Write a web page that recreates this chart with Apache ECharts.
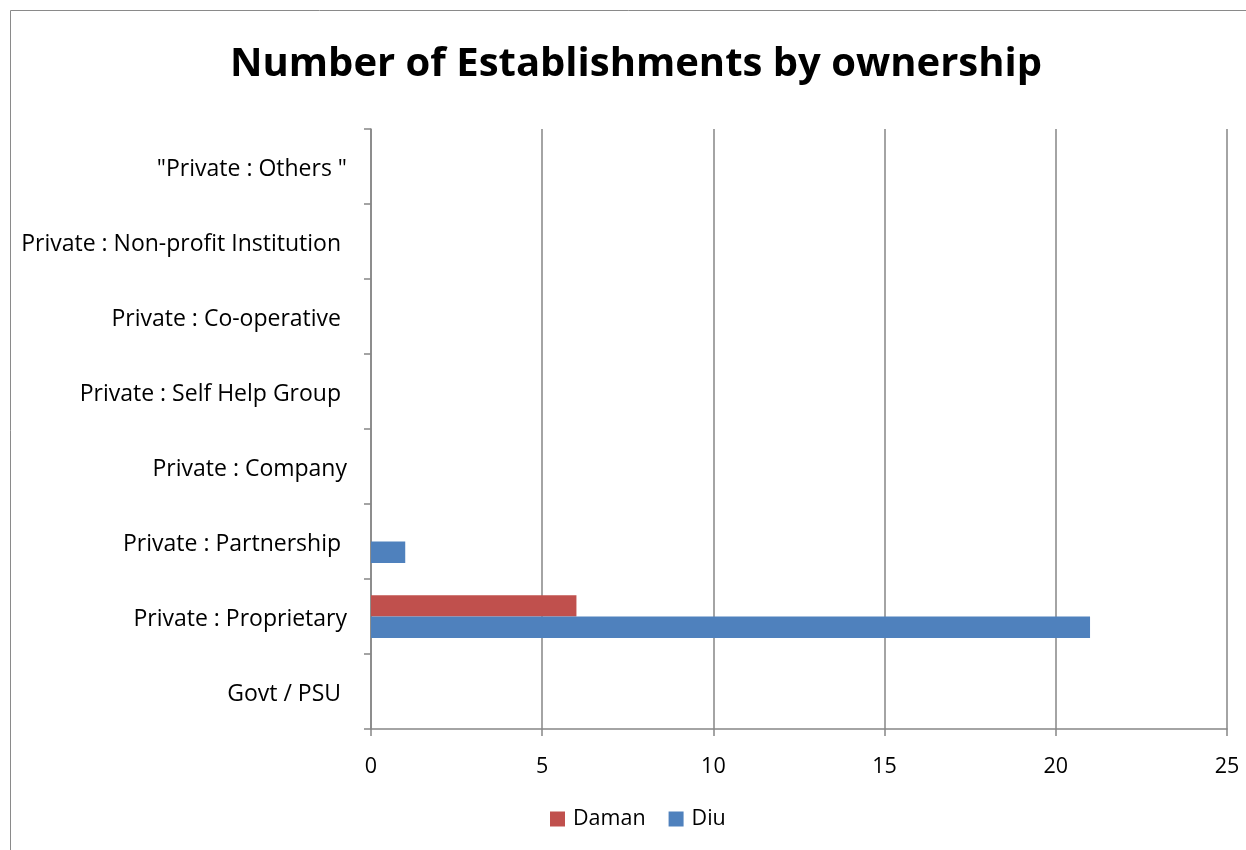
<!DOCTYPE html>
<html><head><meta charset="utf-8">
<script src="https://cdn.jsdelivr.net/npm/echarts@6/dist/echarts.min.js"></script>
<style>html,body{margin:0;padding:0;background:#fff}#c{width:1246px;height:850px}</style>
</head><body><div id="c"></div>
<script>
const categories = ['Govt / PSU ', 'Private : Proprietary', 'Private : Partnership ', 'Private : Company', 'Private : Self Help Group ', 'Private : Co-operative ', 'Private : Non-profit Institution ', '"Private : Others "'];
const damanValues = [0, 6, 0, 0, 0, 0, 0, 0];
const diuValues = [0, 21, 1, 0, 0, 0, 0, 0];
const xTicks = { min: 0, max: 25, interval: 5 };

const chart = echarts.init(document.getElementById('c'), null, {renderer: 'canvas'});
const font = '"Open Sans", "Noto Sans", sans-serif';
chart.setOption({
  animation: false,
  backgroundColor: '#fff',
  title: {
    text: 'Number of Establishments by ownership',
    left: 225, top: 40,
    textStyle: { fontFamily: font, fontSize: 40, fontWeight: 'bold', color: '#000' }
  },
  graphic: [{
    type: 'rect', shape: { x: 10.5, y: 10.5, width: 1300, height: 900 },
    style: { fill: 'none', stroke: '#8a8a8a', lineWidth: 1 }, silent: true
  }],
  legend: {
    data: ['Daman', 'Diu'], bottom: 15, left: 545,
    itemWidth: 15, itemHeight: 15, itemGap: 23, icon: 'rect',
    textStyle: { fontFamily: font, fontSize: 21.5, color: '#000', padding: [0, 0, 0, 3] }
  },
  grid: { left: 371, right: 19, top: 129, bottom: 121, containLabel: false },
  xAxis: {
    type: 'value', min: xTicks.min, max: xTicks.max, interval: xTicks.interval,
    axisLine: { show: true, lineStyle: { color: '#868686', width: 1.5 } },
    axisTick: { show: true, length: 7, lineStyle: { color: '#868686', width: 1.5 } },
    axisLabel: { fontFamily: font, fontSize: 21.5, color: '#000', margin: 27 },
    splitLine: { show: true, lineStyle: { color: '#868686', width: 1.5 } }
  },
  yAxis: {
    type: 'category', data: categories,
    axisLine: { show: true, lineStyle: { color: '#868686', width: 1.5 } },
    axisTick: { show: true, length: 7, alignWithLabel: false, lineStyle: { color: '#868686', width: 1.5 } },
    axisLabel: {
      fontFamily: font, fontSize: 23, color: '#000', margin: 24,
      formatter: v => '{a|' + v + '}',
      rich: { a: { fontFamily: font, fontSize: 23, color: '#000', padding: [6, 0, 0, 0] } }
    },
    splitLine: { show: false }
  },
  series: [
    { name: 'Daman', type: 'bar', data: damanValues, barGap: '0%', barCategoryGap: '43%',
      itemStyle: { color: '#C0504D' } },
    { name: 'Diu', type: 'bar', data: diuValues, barGap: '0%', barCategoryGap: '43%',
      itemStyle: { color: '#4F81BD' } }
  ]
});
</script></body></html>
